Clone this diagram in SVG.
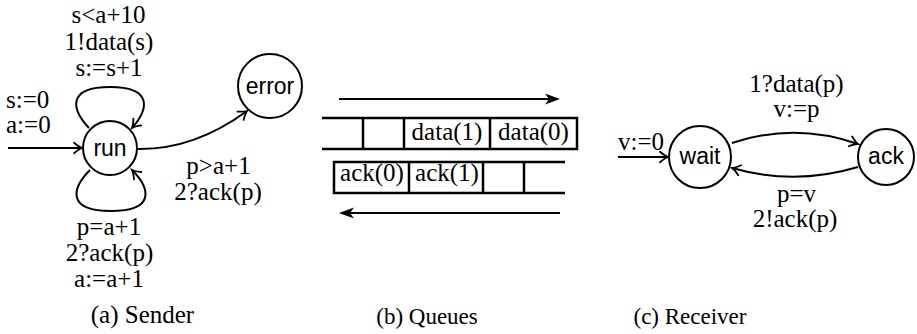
<svg xmlns="http://www.w3.org/2000/svg" width="917" height="334" viewBox="0 0 917 334">
<defs>
<marker id="to" markerUnits="userSpaceOnUse" markerWidth="12" markerHeight="12" refX="10" refY="6" orient="auto" overflow="visible">
<path d="M2,0.8 Q7,5 10,6 Q7,7 2,11.2" fill="none" stroke="#000" stroke-width="1.8" stroke-linecap="round"/>
</marker>
<marker id="big" markerUnits="userSpaceOnUse" markerWidth="18" markerHeight="14" refX="6" refY="7" orient="auto" overflow="visible">
<path d="M16,7 L1,1.5 L5,7 L1,12.5 Z" fill="#000"/>
</marker>
</defs>

<!-- (a) Sender -->
<g id="connectors-sender" fill="none" stroke="#000" stroke-width="2">
<path d="M8,148 L82,148" marker-end="url(#to)"/>
<path d="M89,128 C72,110 66,87 110,87 C154,87 148,110 132,128" marker-end="url(#to)"/>
<path d="M90,170 C72,188 66,211 111,211 C156,211 150,188 132,170" marker-end="url(#to)"/>
<path d="M137,149 Q194,150 247,111" marker-end="url(#to)"/>
</g>
<g id="node-run">
<circle cx="110" cy="148" r="27" fill="#fff" stroke="#000" stroke-width="2"/>
<text x="110" y="156" font-family="Liberation Sans" font-size="23" text-anchor="middle">run</text>
</g>
<g id="node-error">
<circle cx="270" cy="86" r="32" fill="#fff" stroke="#000" stroke-width="2"/>
<text x="270" y="94" font-family="Liberation Sans" font-size="23" text-anchor="middle">error</text>
</g>
<g id="labels-sender">
<text x="108.5" y="23" font-family="Liberation Serif" font-size="25" text-anchor="middle">s&lt;a+10</text>
<text x="109" y="50" font-family="Liberation Serif" font-size="25" text-anchor="middle">1!data(s)</text>
<text x="109" y="76" font-family="Liberation Serif" font-size="25" text-anchor="middle">s:=s+1</text>
<text x="6" y="108" font-family="Liberation Serif" font-size="25">s:=0</text>
<text x="6" y="133" font-family="Liberation Serif" font-size="25">a:=0</text>
<text x="218.5" y="174" font-family="Liberation Serif" font-size="25" text-anchor="middle">p&gt;a+1</text>
<text x="218" y="200" font-family="Liberation Serif" font-size="25" text-anchor="middle">2?ack(p)</text>
<text x="109" y="235" font-family="Liberation Serif" font-size="25" text-anchor="middle">p=a+1</text>
<text x="109.5" y="261" font-family="Liberation Serif" font-size="25" text-anchor="middle">2?ack(p)</text>
<text x="109" y="287" font-family="Liberation Serif" font-size="25" text-anchor="middle">a:=a+1</text>
<text x="142.5" y="323" font-family="Liberation Serif" font-size="25" text-anchor="middle">(a) Sender</text>
</g>

<!-- (b) Queues -->
<g id="queues">
<g fill="none" stroke="#000">
<path d="M339,99 L550,99" stroke-width="2.2" marker-end="url(#big)"/>
<path d="M322,118 L577,118 L577,149 L322,149 M363,118 L363,149 M404,118 L404,149 M490,118 L490,149" stroke-width="2.5"/>
<path d="M565,162 L334,162 L334,193 L565,193 M409,162 L409,193 M483,162 L483,193 M524,162 L524,193" stroke-width="2.5"/>
<path d="M560,213 L349,213" stroke-width="2.2" marker-end="url(#big)"/>
</g>
<text x="447" y="140" font-family="Liberation Serif" font-size="25" text-anchor="middle">data(1)</text>
<text x="533.5" y="140" font-family="Liberation Serif" font-size="25" text-anchor="middle">data(0)</text>
<text x="372" y="181" font-family="Liberation Serif" font-size="25" text-anchor="middle">ack(0)</text>
<text x="447" y="181" font-family="Liberation Serif" font-size="25" text-anchor="middle">ack(1)</text>
<text x="427" y="324" font-family="Liberation Serif" font-size="23" text-anchor="middle">(b) Queues</text>
</g>

<!-- (c) Receiver -->
<g id="connectors-receiver" fill="none" stroke="#000" stroke-width="2">
<path d="M618,157 L668,157" marker-end="url(#to)"/>
<path d="M732,143 Q795,122 858,144" marker-end="url(#to)"/>
<path d="M858,167 Q795,186 732,168" marker-end="url(#to)"/>
</g>
<g id="node-wait">
<circle cx="700" cy="157" r="31" fill="#fff" stroke="#000" stroke-width="2"/>
<text x="700" y="164" font-family="Liberation Sans" font-size="23" text-anchor="middle">wait</text>
</g>
<g id="node-ack">
<circle cx="886" cy="157" r="28" fill="#fff" stroke="#000" stroke-width="2"/>
<text x="886" y="164" font-family="Liberation Sans" font-size="23" text-anchor="middle">ack</text>
</g>
<g id="labels-receiver">
<text x="618" y="150" font-family="Liberation Serif" font-size="25">v:=0</text>
<text x="796.5" y="92" font-family="Liberation Serif" font-size="25" text-anchor="middle">1?data(p)</text>
<text x="796.5" y="117" font-family="Liberation Serif" font-size="25" text-anchor="middle">v:=p</text>
<text x="796.5" y="202" font-family="Liberation Serif" font-size="25" text-anchor="middle">p=v</text>
<text x="795" y="227" font-family="Liberation Serif" font-size="25" text-anchor="middle">2!ack(p)</text>
<text x="690" y="324" font-family="Liberation Serif" font-size="23" text-anchor="middle">(c) Receiver</text>
</g>
</svg>
